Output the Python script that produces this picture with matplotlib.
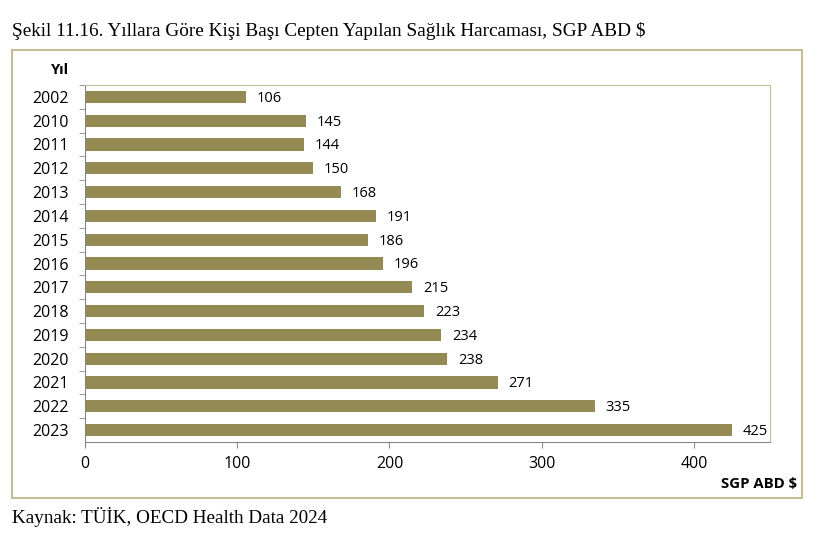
import matplotlib.pyplot as plt
from matplotlib.patches import Rectangle

years = ['2002', '2010', '2011', '2012', '2013', '2014', '2015', '2016',
         '2017', '2018', '2019', '2020', '2021', '2022', '2023']
values = [106, 145, 144, 150, 168, 191, 186, 196, 215, 223, 234, 238, 271, 335, 425]
xticks = [0, 100, 200, 300, 400]

W, H = 820, 536
fig = plt.figure(figsize=(8.2, 5.36), dpi=100)

# outer chart frame
fig.patches.append(Rectangle((12 / W, 1 - 498 / H), (802 - 12) / W, (498 - 50) / H,
                             transform=fig.transFigure, fill=False,
                             edgecolor='#c4bd97', linewidth=1.5))

ax = fig.add_axes([85 / W, 1 - 442 / H, (770 - 85) / W, (442 - 85) / H])
pos = list(range(len(years)))
ax.barh(pos, values, height=0.52, color='#948a54')
ax.set_ylim(len(years) - 0.5, -0.5)
ax.set_xlim(0, 450)
ax.set_yticks(pos)
ax.set_yticklabels(years, fontsize=11.5, family='Open Sans')
ax.set_xticks(xticks)
ax.set_xticklabels([str(t) for t in xticks], fontsize=11.5, family='Open Sans')
ax.tick_params(axis='x', length=4, color='#868686', pad=6)
ax.set_yticks([p + 0.5 for p in pos[:-1]] + [-0.5], minor=True)
ax.tick_params(axis='y', which='minor', length=4, color='#868686')
ax.tick_params(axis='y', which='major', length=0, pad=12)

for s in ['top', 'right']:
    ax.spines[s].set_color('#c4bd97')
for s in ['left', 'bottom']:
    ax.spines[s].set_color('#868686')

for p, v in zip(pos, values):
    ax.text(v + 7, p + 0.06, str(v), va='center', ha='left', fontsize=10.5, family='Open Sans')

fig.text(12 / W, 1 - 36 / H,
         'Şekil 11.16. Yıllara Göre Kişi Başı Cepten Yapılan Sağlık Harcaması, SGP ABD $',
         family='Liberation Serif', fontsize=13.9, va='baseline')
fig.text(60 / W, 1 - 70 / H, 'Yıl', family='Open Sans', fontweight='bold',
         fontsize=10.5, ha='center', va='center')
fig.text(797 / W, 1 - 484 / H, 'SGP ABD $', family='Open Sans', fontweight='bold',
         fontsize=10.7, ha='right', va='center')
fig.text(12 / W, 1 - 523 / H, 'Kaynak: TÜİK, OECD Health Data 2024',
         family='Liberation Serif', fontsize=13.8, va='baseline')

fig.savefig('out.png', dpi=100)
